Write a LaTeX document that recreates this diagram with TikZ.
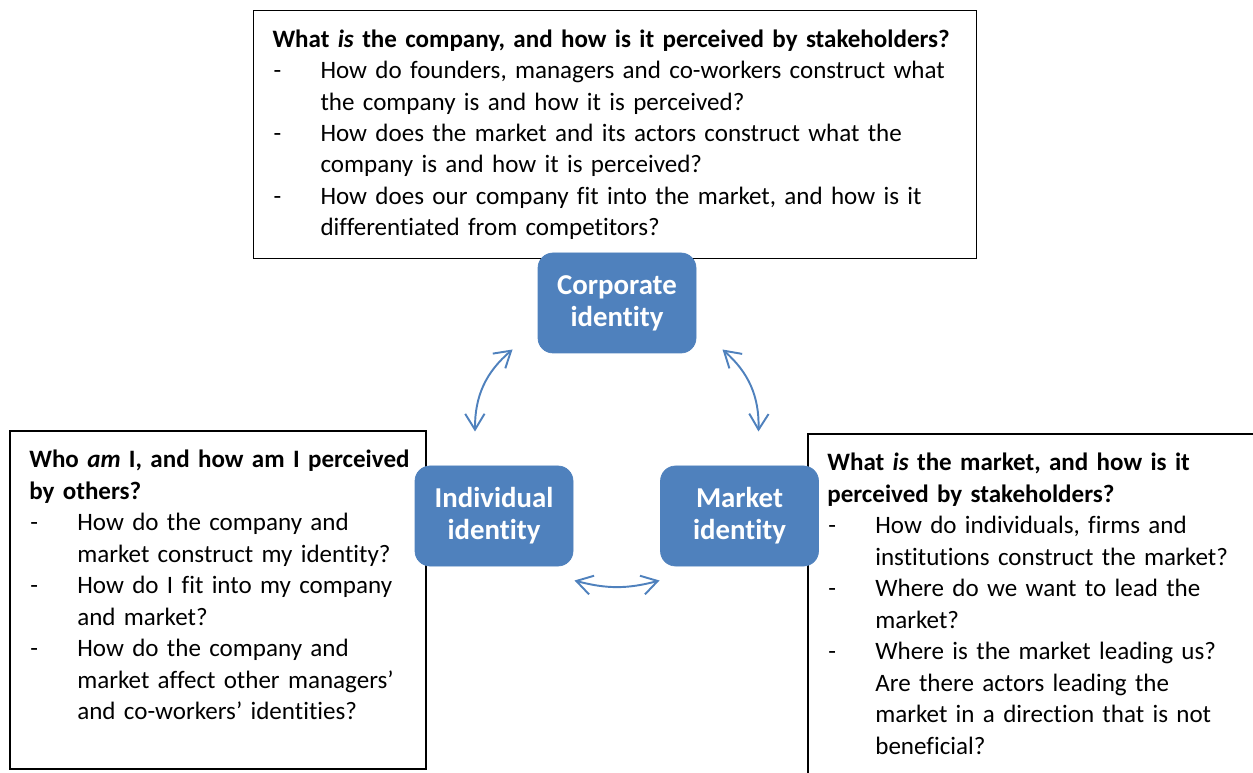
\documentclass[tikz,border=0pt]{standalone}
\usepackage{fontspec}
\setmainfont{Carlito}[Ligatures=NoCommon]
\usetikzlibrary{arrows.meta}
\definecolor{idblue}{HTML}{4F81BD}

% dash item with hanging indent
\newcommand{\qitem}[1]{\par\noindent\hangindent=0.96cm\hangafter=1\makebox[0.96cm][l]{\hspace{0.02cm}-}#1\par}

\begin{document}
\begin{tikzpicture}[
  qbox/.style={align=left, inner sep=0.38cm, font=\fontsize{14.25}{17.9}\selectfont},
  qframe/.style={draw=black, line width=0.6pt},
  idbox/.style={fill=idblue, draw=idblue, rounded corners=0.3cm, minimum width=3.16cm,
    minimum height=2cm, text=white, align=center, font=\bfseries\fontsize{16.4}{18.2}\selectfont},
  link/.style={idblue, line width=1.1pt,
    {Straight Barb[length=9pt,width=11pt]}-{Straight Barb[length=9pt,width=11pt]}}
]
\useasboundingbox (0,0) rectangle (25.06,15.44);
\clip (0,0) rectangle (25.06,15.44);

% question boxes
\node[qbox, qframe, text width=13.7cm, minimum height=4.92cm, anchor=north west] (compq) at (5.06,15.24) {%
  \textbf{What \textit{is} the company, and how is it perceived by stakeholders?}
  \qitem{How do founders, managers and co-workers construct what\newline the company is and how it is perceived?}
  \qitem{How does the market and its actors construct what the\newline company is and how it is perceived?}
  \qitem{How does our company fit into the market, and how is it\newline differentiated from competitors?}};

\node[qbox, text width=8cm, anchor=north west] (indq) at (0.2,6.82) {%
  \textbf{Who \textit{am} I, and how am I perceived\newline by others?}
  \qitem{How do the company and\newline market construct my identity?}
  \qitem{How do I fit into my company\newline and market?}
  \qitem{How do the company and\newline market affect other managers’\newline and co-workers’ identities?}};
\draw[qframe] (indq.north west) rectangle (8.52,0.06);

\node[qbox, text width=8.6cm, anchor=north west] (mktq) at (16.16,6.76) {%
  \textbf{What \textit{is} the market, and how is it\newline perceived by stakeholders?}
  \qitem{How do individuals, firms and\newline institutions construct the market?}
  \qitem{Where do we want to lead the\newline market?}
  \qitem{Where is the market leading us?\newline Are there actors leading the\newline market in a direction that is not\newline beneficial?}};
\draw[qframe] (mktq.north west) rectangle (25.6,-0.5);

% identities
\node[idbox] (corp) at (12.34,9.38) {Corporate\\identity};
\node[idbox] (ind) at (9.88,5.12) {Individual\\identity};
\node[idbox] (mkt) at (14.79,5.12) {Market\\identity};

% arrow ends
\coordinate (ind-up) at (9.5,6.81);
\coordinate (corp-l) at (10.25,8.45);
\coordinate (corp-r) at (14.45,8.45);
\coordinate (mkt-up) at (15.17,6.81);
\coordinate (ind-r) at (11.49,3.83);
\coordinate (mkt-l) at (13.19,3.83);

\draw[link] (ind-up) to[bend left=25] (corp-l);
\draw[link] (corp-r) to[bend left=25] (mkt-up);
\draw[link] (ind-r) to[bend right=15] (mkt-l);

\end{tikzpicture}
\end{document}
